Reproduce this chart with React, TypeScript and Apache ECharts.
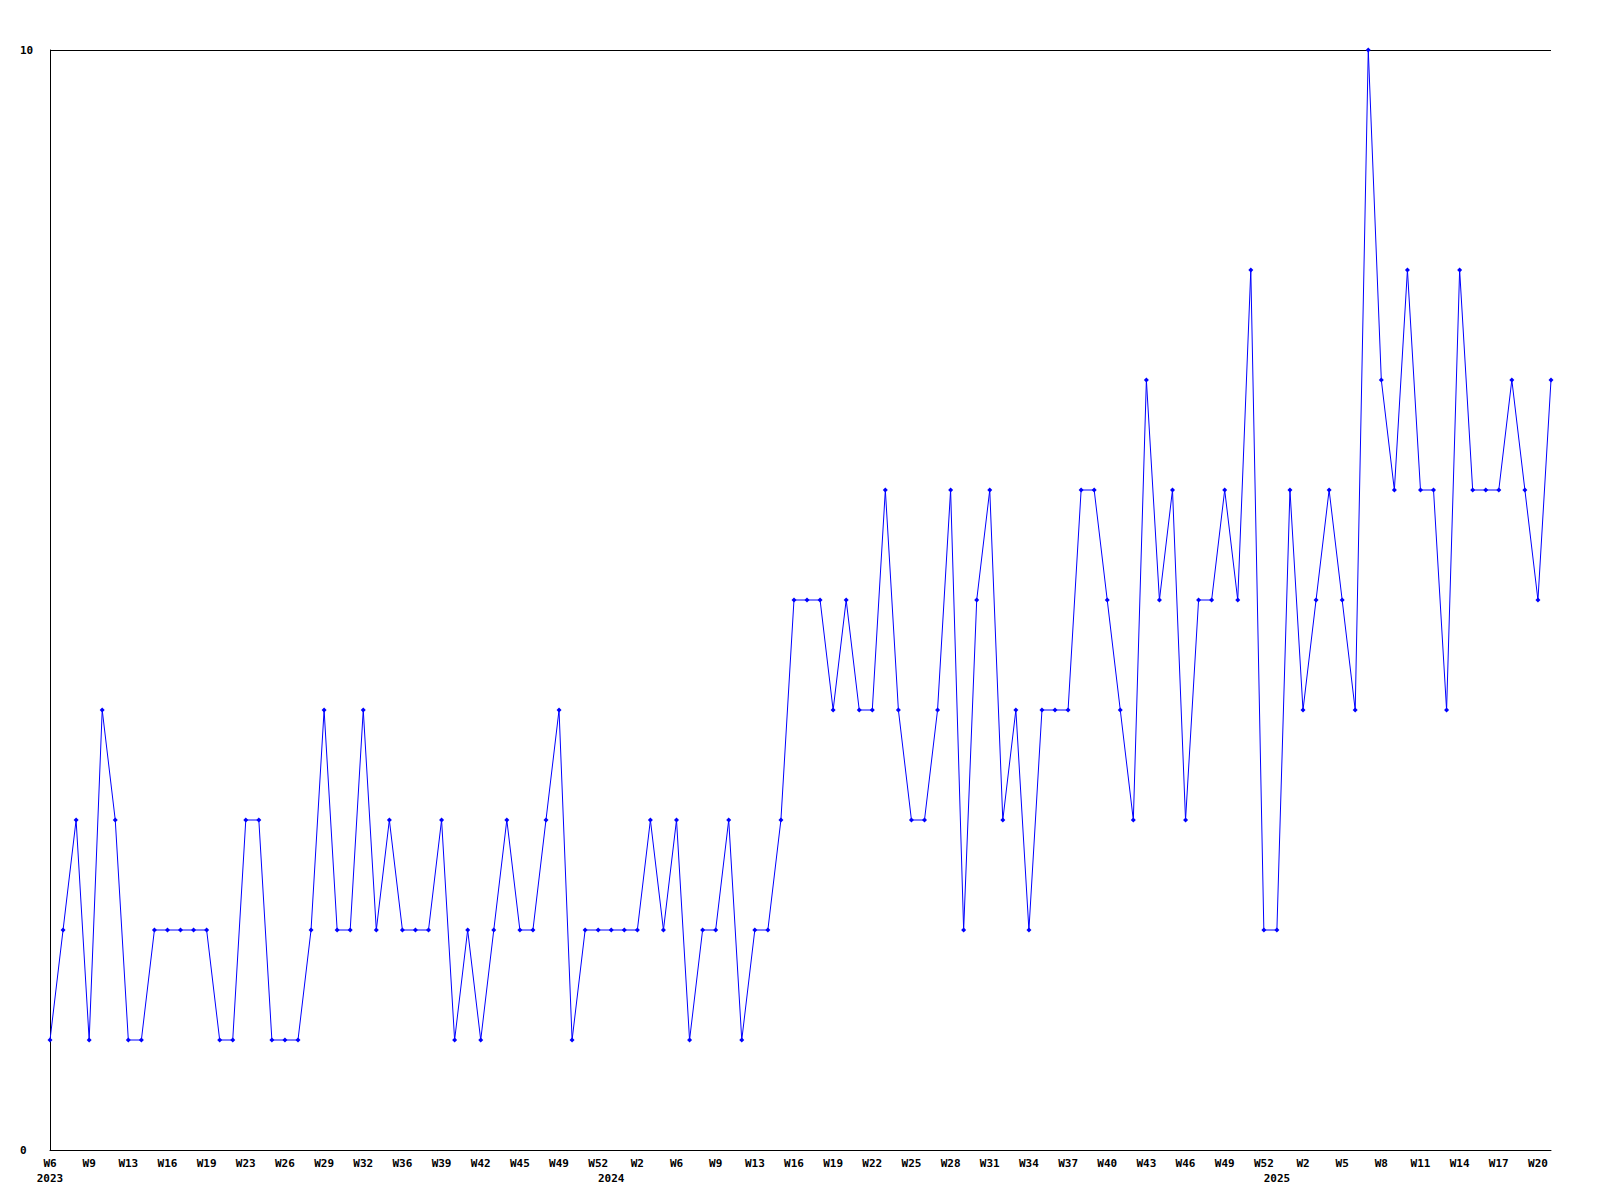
import React, { useEffect, useRef } from "react";
import * as echarts from "echarts";

// ISO-like week numbers present in the data (weeks with zero counts are absent)
const weeks2023 = [6, 7, 8, 9, 10, 12, 13, 14, 15, 16, 17, 18, 19, 20, 22, 23, 24, 25, 26, 27, 28, 29, 30, 31, 32, 33, 35, 36, 37, 38, 39, 40, 41, 42, 43, 44, 45, 46, 48, 49, 50, 51, 52];
const weeks2024 = [0, 1, 2, 3, 5, 6, 7, 8, 9, 10, 12, 13, 14, 15, 16, 17, 18, 19, 20, 21, 22, 23, 24, 25, 26, 27, 28, 29, 30, 31, 32, 33, 34, 35, 36, 37, 38, 39, 40, 41, 42, 43, 44, 45, 46, 47, 48, 49, 50, 51, 52];
const weeks2025 = [0, 1, 2, 3, 4, 5, 6, 7, 8, 9, 10, 11, 12, 13, 14, 15, 16, 17, 18, 19, 20, 21];

const counts2023 = [1, 2, 3, 1, 4, 3, 1, 1, 2, 2, 2, 2, 2, 1, 1, 3, 3, 1, 1, 1, 2, 4, 2, 2, 4, 2, 3, 2, 2, 2, 3, 1, 2, 1, 2, 3, 2, 2, 3, 4, 1, 2, 2];
const counts2024 = [2, 2, 2, 3, 2, 3, 1, 2, 2, 3, 1, 2, 2, 3, 5, 5, 5, 4, 5, 4, 4, 6, 4, 3, 3, 4, 6, 2, 5, 6, 3, 4, 2, 4, 4, 4, 6, 6, 5, 4, 3, 7, 5, 6, 3, 5, 5, 6, 5, 8, 2];
const counts2025 = [2, 6, 4, 5, 6, 5, 4, 10, 7, 6, 8, 6, 6, 4, 8, 6, 6, 6, 7, 6, 5, 7];

const yTicks = [0, 10];

const categories: string[] = [
  ...weeks2023.map((w) => `2023-W${w}`),
  ...weeks2024.map((w) => `2024-W${w}`),
  ...weeks2025.map((w) => `2025-W${w}`),
];
const counts: number[] = [...counts2023, ...counts2024, ...counts2025];

const FONT = "DejaVu Sans Mono";

export default function App() {
  const ref = useRef<HTMLDivElement>(null);
  useEffect(() => {
    if (!ref.current) return;
    const chart = echarts.init(ref.current, null, { renderer: "svg" });
    const yearStart = (i: number) =>
      i === 0 || categories[i].slice(0, 4) !== categories[i - 1].slice(0, 4);
    chart.setOption({
      animation: false,
      backgroundColor: "#ffffff",
      grid: { left: 50, right: 49, top: 50, bottom: 50, containLabel: false },
      xAxis: [
        {
          type: "category",
          data: categories,
          boundaryGap: false,
          axisLine: { show: true, lineStyle: { color: "#000", width: 1 } },
          axisTick: { show: false },
          splitLine: { show: false },
          axisLabel: {
            interval: (i: number) => i % 3 === 0,
            formatter: (v: string) => v.split("-")[1],
            fontFamily: FONT,
            fontWeight: "bold",
            fontSize: 11,
            color: "#000",
            margin: 8,
          },
        },
        {
          type: "category",
          data: categories,
          boundaryGap: false,
          position: "bottom",
          offset: 15,
          axisLine: { show: false },
          axisTick: { show: false },
          splitLine: { show: false },
          axisLabel: {
            interval: (i: number) => yearStart(i),
            formatter: (v: string) => v.split("-")[0],
            fontFamily: FONT,
            fontWeight: "bold",
            fontSize: 11,
            color: "#000",
            margin: 8,
          },
        },
      ],
      yAxis: {
        type: "value",
        min: yTicks[0],
        max: yTicks[yTicks.length - 1],
        interval: yTicks[1] - yTicks[0],
        axisLine: { show: true, lineStyle: { color: "#000", width: 1 } },
        axisTick: { show: false },
        splitLine: { show: true, lineStyle: { color: "#000", width: 1, type: "solid" } },
        axisLabel: {
          align: "left",
          margin: 30,
          fontFamily: FONT,
          fontWeight: "bold",
          fontSize: 11,
          color: "#000",
        },
      },
      series: [
        {
          type: "line",
          xAxisIndex: 0,
          data: counts,
          symbol: "diamond",
          symbolSize: 5,
          showAllSymbol: true,
          lineStyle: { color: "#0000ff", width: 1 },
          itemStyle: { color: "#0000ff" },
        },
      ],
    });
    return () => chart.dispose();
  }, []);
  return (
    <div
      ref={ref}
      style={{ position: "absolute", left: 0, top: 0, width: 1600, height: 1200, background: "#fff" }}
    />
  );
}
